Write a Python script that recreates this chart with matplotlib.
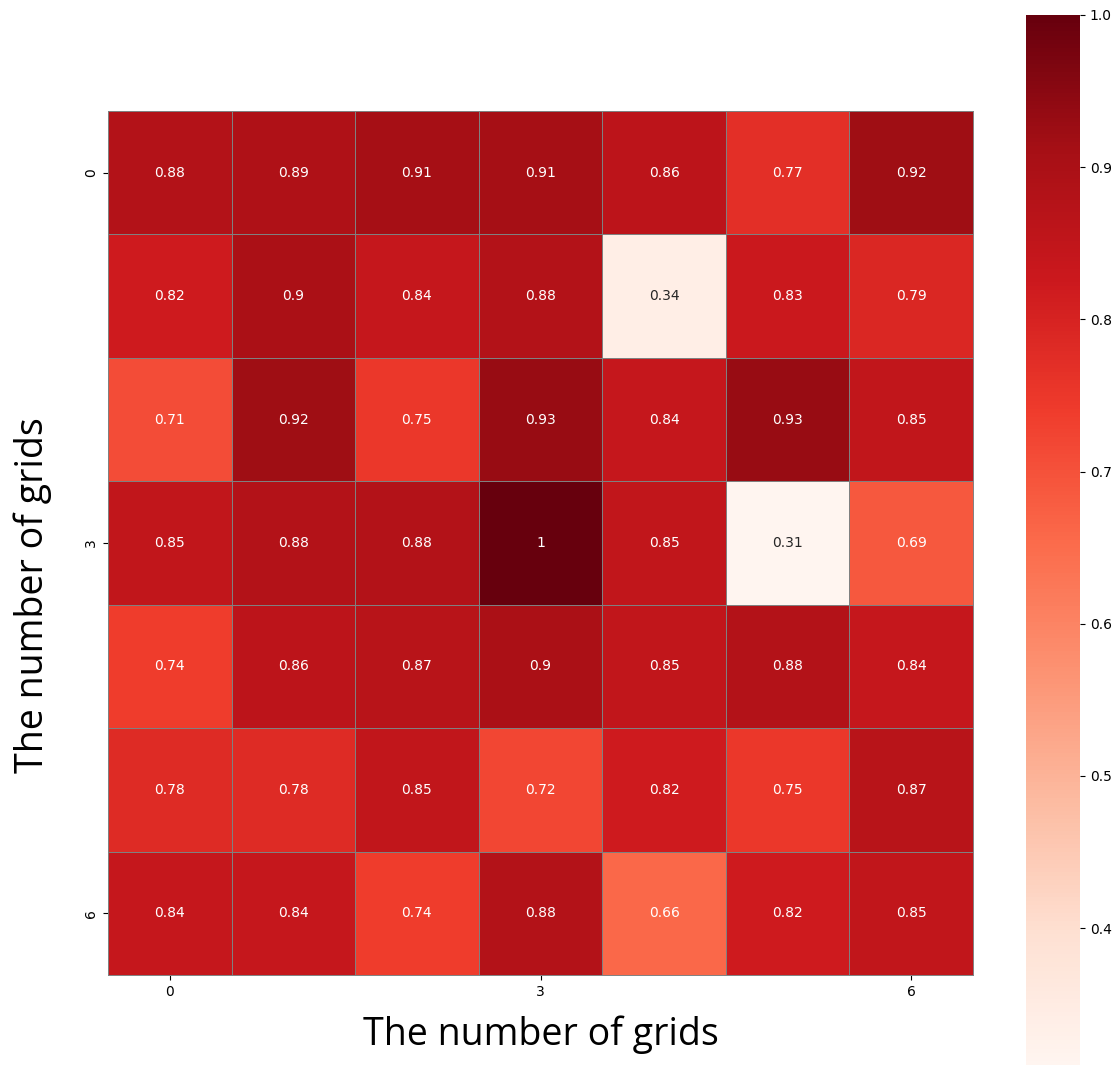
import numpy as np
import matplotlib
matplotlib.use("Agg")
import matplotlib.pyplot as plt
import seaborn as sns

# Accuracy per grid cell (rows x columns)
row0 = [0.88, 0.89, 0.91, 0.91, 0.86, 0.77, 0.92]
row1 = [0.82, 0.90, 0.84, 0.88, 0.34, 0.83, 0.79]
row2 = [0.71, 0.92, 0.75, 0.93, 0.84, 0.93, 0.85]
row3 = [0.85, 0.88, 0.88, 1.00, 0.85, 0.31, 0.69]
row4 = [0.74, 0.86, 0.87, 0.90, 0.85, 0.88, 0.84]
row5 = [0.78, 0.78, 0.85, 0.72, 0.82, 0.75, 0.87]
row6 = [0.84, 0.84, 0.74, 0.88, 0.66, 0.82, 0.85]

data = np.array([row0, row1, row2, row3, row4, row5, row6])
axis_title = "The number of grids"

fig = plt.figure(figsize=(11.16, 10.66), dpi=100)
W, H = 1116, 1066
ax = fig.add_axes([108 / W, 91 / H, 865 / W, 864 / H])
cax = fig.add_axes([1026 / W, 1 / H, 54 / W, 1050 / H])

sns.heatmap(data, ax=ax, cbar_ax=cax, cmap="Reds", annot=True,
            annot_kws={"fontsize": 10}, linewidths=0.7, linecolor="gray",
            xticklabels=3, yticklabels=3, square=False)

for s in ax.spines.values():
    s.set_visible(True)
    s.set_color("gray")
    s.set_linewidth(0.7)

ax.tick_params(labelsize=10)
plt.setp(ax.get_yticklabels(), rotation=90, va="center")
ax.set_xlabel(axis_title, fontsize=27, family="Open Sans", labelpad=12)
ax.set_ylabel(axis_title, fontsize=27, family="Open Sans")
ax.yaxis.set_label_coords(-0.065, 0.44)

cax.tick_params(labelsize=10)
for s in cax.spines.values():
    s.set_visible(False)

fig.savefig("out.png", dpi=100)
